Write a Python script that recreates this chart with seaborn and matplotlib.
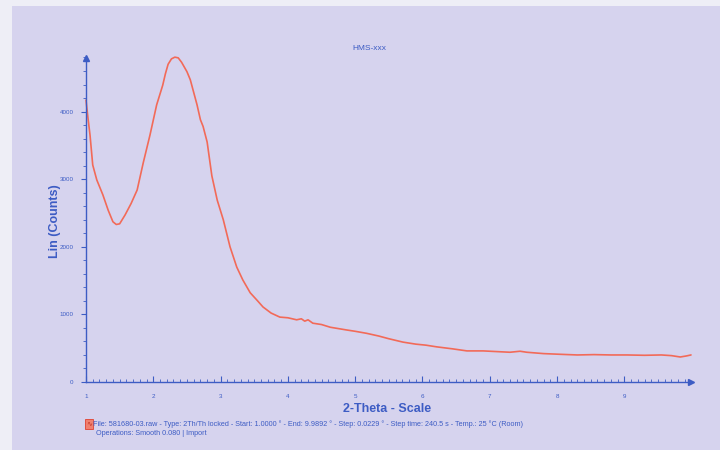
import numpy as np
import pandas as pd
import matplotlib
matplotlib.use("Agg")
import matplotlib.pyplot as plt
from matplotlib.ticker import MultipleLocator
import seaborn as sns

# ---- data ----
two_theta = [1.00, 1.03, 1.06, 1.10, 1.16, 1.25, 1.33, 1.40, 1.45, 1.50,
             1.58, 1.67, 1.76, 1.85, 1.95, 2.05, 2.14, 2.18, 2.22, 2.27,
             2.32, 2.37, 2.42, 2.46, 2.50, 2.55, 2.65, 2.70, 2.74, 2.80,
             2.87, 2.95, 3.04, 3.14, 3.24, 3.33, 3.44, 3.55, 3.63, 3.75,
             3.88, 4.00, 4.13, 4.20, 4.25, 4.30, 4.37, 4.50, 4.63, 4.75,
             4.87, 5.00, 5.17, 5.35, 5.50, 5.71, 5.90, 6.05, 6.21, 6.45,
             6.66, 6.90, 7.10, 7.30, 7.45, 7.55, 7.80, 8.04, 8.30, 8.55,
             8.80, 9.04, 9.30, 9.55, 9.70, 9.83, 9.92, 9.99]
counts = [4170, 3900, 3650, 3210, 2990, 2770, 2540, 2370, 2330, 2340,
          2470, 2640, 2840, 3240, 3650, 4100, 4390, 4560, 4700, 4780,
          4805, 4795, 4730, 4660, 4590, 4470, 4100, 3880, 3780, 3550,
          3050, 2690, 2400, 2000, 1700, 1510, 1320, 1200, 1110, 1020,
          960, 950, 920, 935, 900, 920, 870, 850, 810, 790,
          770, 750, 720, 680, 640, 590, 560, 545, 520, 490,
          460, 460, 450, 440, 455, 440, 420, 410, 400, 405,
          400, 400, 395, 400, 390, 370, 385, 400]
x_ticks = [1, 2, 3, 4, 5, 6, 7, 8, 9]
y_ticks = [0, 1000, 2000, 3000, 4000]

title_text = "HMS-xxx"
x_label = "2-Theta - Scale"
y_label = "Lin (Counts)"
footer_1 = ("File: 581680-03.raw - Type: 2Th/Th locked - Start: 1.0000 \u00b0 - "
            "End: 9.9892 \u00b0 - Step: 0.0229 \u00b0 - Step time: 240.5 s - "
            "Temp.: 25 \u00b0C (Room)")
footer_2 = "Operations: Smooth 0.080 | Import"

# ---- style ----
sns.set_theme(style="white")
plt.rcParams['font.family'] = ['Liberation Sans', 'DejaVu Sans']

paper = "#D6D3EE"
blue = "#3D5CC4"
red = "#F26A58"

fig = plt.figure(figsize=(7.2, 4.5), dpi=100, facecolor=paper)
# scanner edges (whitish)
fig.patches.append(plt.Rectangle((0, 0), 12 / 720, 1, transform=fig.transFigure,
                                 facecolor="#EEEEF6", edgecolor="none", zorder=0))
fig.patches.append(plt.Rectangle((0, 1 - 6 / 450), 1, 6 / 450, transform=fig.transFigure,
                                 facecolor="#EEEEF6", edgecolor="none", zorder=0))

left, bottom = 86 / 720, 1 - 382 / 450
width = (691 - 86) / 720
height = (382 - 57.5) / 450
ax = fig.add_axes([left, bottom, width, height])
ax.set_facecolor("none")

df = pd.DataFrame({"two_theta": two_theta, "counts": counts})
sns.lineplot(data=df, x="two_theta", y="counts", ax=ax, color=red,
             linewidth=1.2, estimator=None, sort=False)
for ln in ax.get_lines():
    ln.set_clip_on(False)

ax.set_xlim(1, 9.99)
ax.set_ylim(0, 4800)
ax.set_xticks(x_ticks)
ax.set_yticks(y_ticks)
ax.xaxis.set_minor_locator(MultipleLocator(0.1))
ax.yaxis.set_minor_locator(MultipleLocator(200))
ax.set_xticklabels([str(t) for t in x_ticks])
ax.set_yticklabels([str(t) for t in y_ticks])

for s in ("top", "right"):
    ax.spines[s].set_visible(False)
for s in ("left", "bottom"):
    ax.spines[s].set_color(blue)
    ax.spines[s].set_linewidth(1.0)

ax.tick_params(which="both", bottom=True, left=True, top=False, right=False)
ax.tick_params(axis="x", which="major", direction="in", length=4.5, width=0.8,
               color=blue, labelsize=4.5, labelcolor=blue, pad=9)
ax.tick_params(axis="x", which="minor", direction="in", length=2.5, width=0.6, color=blue)
ax.tick_params(axis="y", which="major", direction="out", length=3.5, width=0.8,
               color=blue, labelsize=4.5, labelcolor=blue, pad=5.5)
ax.tick_params(axis="y", which="minor", direction="out", length=2, width=0.6, color=blue)

# axis arrow heads
ax.plot(1, 0, marker=">", color=blue, markersize=4, transform=ax.transAxes, clip_on=False)
ax.plot(0, 1, marker="^", color=blue, markersize=4, transform=ax.transAxes, clip_on=False)

ax.set_xlabel("")
ax.set_ylabel("")

fig.text(369 / 720, 1 - 48 / 450, title_text, color=blue, fontsize=6,
         ha="center", va="center")
fig.text(387 / 720, 1 - 409 / 450, x_label, color=blue, fontsize=9,
         fontweight="bold", ha="center", va="center")
fig.text(55 / 720, 1 - 221 / 450, y_label, color=blue, fontsize=9,
         fontweight="bold", ha="center", va="center", rotation=90)

# footer with small red file icon
fig.text(86 / 720, 1 - 424 / 450, "\u223f", color="#C03020", fontsize=5,
         ha="left", va="center",
         bbox=dict(boxstyle="square,pad=0.15", facecolor="#F08070", edgecolor="#E04030", linewidth=0.6))
fig.text(93 / 720, 1 - 424 / 450, footer_1, color=blue, fontsize=5.2,
         ha="left", va="center")
fig.text(96 / 720, 1 - 433.5 / 450, footer_2, color=blue, fontsize=5.2,
         ha="left", va="center")

fig.savefig("out.png", dpi=100, facecolor=paper)
